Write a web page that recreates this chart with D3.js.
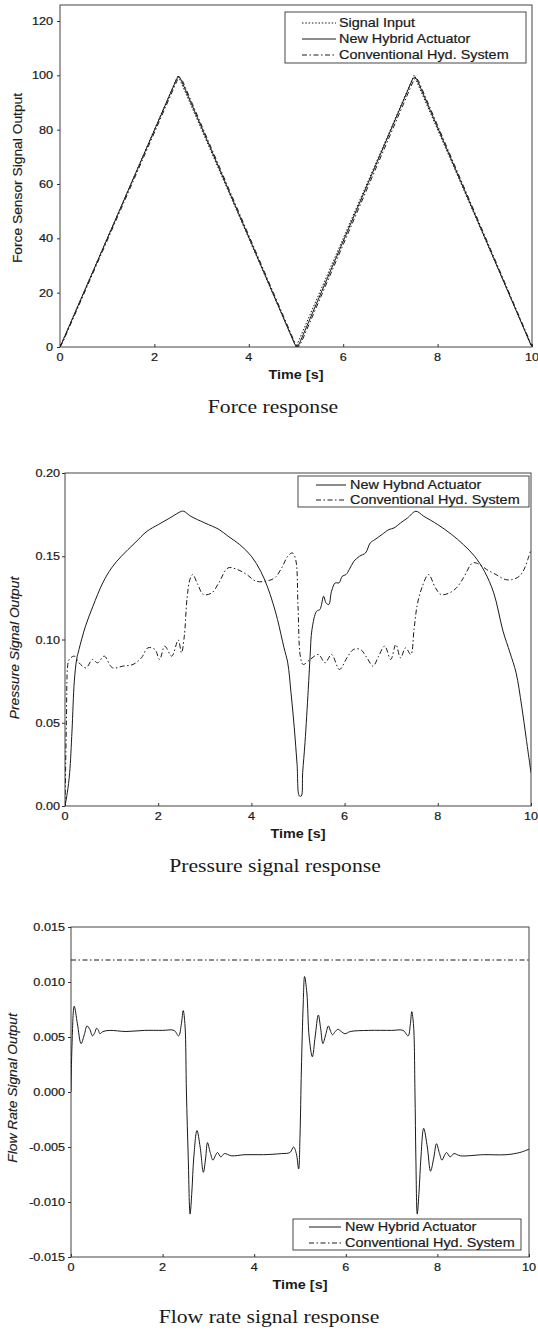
<!DOCTYPE html>
<html><head><meta charset="utf-8">
<script src="https://cdn.jsdelivr.net/npm/d3@7"></script>
<style>html,body{margin:0;padding:0;background:#fff;}svg{display:block;}</style>
</head><body>
<svg id="chart" width="538" height="1330"></svg>
<script>
// ---------------- DATA ----------------
const timeTicks = [0, 2, 4, 6, 8, 10];
const timeTickLabels = ["0", "2", "4", "6", "8", "10"];

// Panel 1 : force response
const forceTicks = [0, 20, 40, 60, 80, 100, 120];
const forceTickLabels = ["0", "20", "40", "60", "80", "100", "120"];
const forceSignalInput = [[0, 0], [2.5, 100], [5, 0], [7.5, 100], [10, 0]];
const forceHybrid = [[0, 0], [0.04, 1.5], [2.47, 98.6], [2.52, 99.6], [2.57, 98.2], [4.98, 0.8], [5.03, 0], [5.08, 1.6], [7.47, 98.6], [7.52, 99.5], [7.57, 98.2], [9.98, 0.6], [10, 0.4]];
const forceConventional = [[0, 0], [0.06, 1.8], [2.49, 98.4], [2.54, 99.2], [2.6, 97.8], [5.0, 0.6], [5.06, 0.2], [5.12, 2.0], [7.5, 98.5], [7.55, 99.1], [7.6, 97.8], [10, 0.3]];

// Panel 2 : pressure signal
const pressureTicks = [0, 0.05, 0.10, 0.15, 0.20];
const pressureTickLabels = ["0.00", "0.05", "0.10", "0.15", "0.20"];
const pressureHybrid = [[0, 0], [0.05, 0.008], [0.1, 0.02], [0.15, 0.045], [0.2, 0.075], [0.25, 0.088], [0.3, 0.094], [0.44, 0.108], [0.6, 0.12], [0.81, 0.134], [1.0, 0.143], [1.21, 0.150], [1.5, 0.158], [1.76, 0.165], [2.0, 0.169], [2.25, 0.173], [2.5, 0.177], [2.55, 0.177], [2.7, 0.174], [3.0, 0.170], [3.31, 0.166], [3.5, 0.162], [3.75, 0.157], [4.0, 0.150], [4.2, 0.141], [4.34, 0.132], [4.46, 0.122], [4.56, 0.112], [4.7, 0.095], [4.78, 0.086], [4.85, 0.068], [4.92, 0.047], [4.98, 0.025], [5.03, 0.006], [5.07, 0.006], [5.1, 0.02], [5.15, 0.038], [5.22, 0.07], [5.26, 0.09], [5.3, 0.106], [5.4, 0.117], [5.47, 0.118], [5.55, 0.126], [5.6, 0.122], [5.66, 0.121], [5.72, 0.129], [5.8, 0.134], [5.88, 0.134], [5.95, 0.138], [6.03, 0.139], [6.1, 0.142], [6.2, 0.147], [6.32, 0.150], [6.45, 0.152], [6.55, 0.158], [6.65, 0.160], [6.8, 0.163], [6.95, 0.166], [7.06, 0.167], [7.2, 0.170], [7.35, 0.173], [7.53, 0.177], [7.7, 0.174], [8.0, 0.169], [8.3, 0.163], [8.55, 0.157], [8.79, 0.150], [9.0, 0.141], [9.2, 0.128], [9.4, 0.105], [9.55, 0.092], [9.68, 0.08], [9.8, 0.06], [9.9, 0.04], [10, 0.02]];
const pressureConventional = [[0, 0], [0.03, 0.05], [0.06, 0.085], [0.09, 0.088], [0.2, 0.09], [0.3, 0.086], [0.45, 0.083], [0.59, 0.088], [0.7, 0.086], [0.84, 0.09], [1.02, 0.083], [1.24, 0.084], [1.46, 0.085], [1.64, 0.089], [1.78, 0.095], [1.93, 0.094], [2.03, 0.088], [2.14, 0.096], [2.29, 0.09], [2.43, 0.0997], [2.5, 0.092], [2.56, 0.102], [2.62, 0.125], [2.68, 0.136], [2.74, 0.139], [2.85, 0.133], [2.97, 0.127], [3.15, 0.128], [3.3, 0.134], [3.5, 0.143], [3.7, 0.142], [3.9, 0.139], [4.1, 0.135], [4.3, 0.135], [4.5, 0.137], [4.65, 0.143], [4.78, 0.150], [4.88, 0.152], [4.95, 0.148], [5.0, 0.12], [5.05, 0.09], [5.11, 0.085], [5.26, 0.088], [5.44, 0.091], [5.58, 0.086], [5.72, 0.091], [5.89, 0.082], [6.05, 0.089], [6.19, 0.094], [6.34, 0.094], [6.48, 0.089], [6.61, 0.084], [6.73, 0.090], [6.86, 0.096], [6.99, 0.088], [7.1, 0.097], [7.2, 0.089], [7.31, 0.095], [7.42, 0.091], [7.49, 0.106], [7.56, 0.121], [7.67, 0.132], [7.8, 0.139], [7.95, 0.131], [8.07, 0.127], [8.25, 0.128], [8.4, 0.131], [8.55, 0.137], [8.75, 0.146], [8.9, 0.145], [9.05, 0.142], [9.25, 0.139], [9.45, 0.136], [9.6, 0.136], [9.75, 0.138], [9.85, 0.142], [9.93, 0.148], [10, 0.154]];

// Panel 3 : flow rate signal
const flowTicks = [-0.015, -0.010, -0.005, 0, 0.005, 0.010, 0.015];
const flowTickLabels = ["-0.015", "-0.010", "-0.005", "0.000", "0.005", "0.010", "0.015"];
const flowHybrid = [[0, 0], [0.02, 0.004], [0.07, 0.0078], [0.14, 0.0062], [0.22, 0.0044], [0.29, 0.0052], [0.35, 0.006], [0.41, 0.0057], [0.47, 0.0051], [0.52, 0.0054], [0.56, 0.0058], [0.6, 0.0056], [0.63, 0.0053], [0.7, 0.0055], [0.85, 0.0056], [1.2, 0.0055], [1.6, 0.0056], [2.0, 0.0056], [2.25, 0.0056], [2.35, 0.0051], [2.41, 0.0062], [2.45, 0.0074], [2.49, 0.006], [2.52, 0.0], [2.56, -0.006], [2.6, -0.0111], [2.64, -0.009], [2.68, -0.006], [2.75, -0.0035], [2.82, -0.005], [2.89, -0.0073], [2.94, -0.006], [2.98, -0.0046], [3.04, -0.0055], [3.1, -0.0062], [3.15, -0.0058], [3.2, -0.0055], [3.27, -0.0059], [3.35, -0.0056], [3.5, -0.0058], [3.8, -0.0057], [4.2, -0.0057], [4.6, -0.0056], [4.78, -0.0055], [4.86, -0.005], [4.92, -0.0056], [4.97, -0.007], [5.0, -0.004], [5.03, 0.002], [5.07, 0.008], [5.1, 0.0105], [5.15, 0.009], [5.2, 0.005], [5.27, 0.0032], [5.33, 0.005], [5.4, 0.007], [5.45, 0.0058], [5.5, 0.0044], [5.56, 0.0052], [5.62, 0.006], [5.67, 0.0055], [5.71, 0.0052], [5.77, 0.0055], [5.83, 0.0057], [5.9, 0.0055], [5.98, 0.0053], [6.1, 0.0055], [6.5, 0.0056], [7.0, 0.0056], [7.25, 0.0056], [7.36, 0.0051], [7.41, 0.0062], [7.44, 0.0073], [7.48, 0.006], [7.51, 0.0], [7.53, -0.006], [7.56, -0.0111], [7.6, -0.009], [7.64, -0.006], [7.7, -0.0033], [7.78, -0.005], [7.85, -0.0072], [7.92, -0.006], [7.98, -0.0047], [8.04, -0.0055], [8.1, -0.0062], [8.15, -0.0058], [8.2, -0.0055], [8.28, -0.0059], [8.36, -0.0056], [8.5, -0.0058], [9.0, -0.0057], [9.5, -0.0057], [9.8, -0.0055], [10, -0.0052]];
const flowConventional = [[0, 0.012], [10, 0.012]];

const captions = ["Force response", "Pressure signal response", "Flow rate signal response"];
const yTitles = ["Force Sensor Signal Output", "Pressure Signal Output", "Flow Rate Signal Output"];
const legendNames = ["Signal Input", "New Hybrid Actuator", "Conventional Hyd. System"];
const legendNamesPressure = ["New Hybnd Actuator", "Conventional Hyd. System"];
const legendNamesFlow = ["New Hybrid Actuator", "Conventional Hyd. System"];

// ---------------- DRAWING ----------------
const svg = d3.select("#chart");
svg.append("rect").attr("width", 538).attr("height", 1330).attr("fill", "#fff");
const INK = "#1a1a1a";
const SANS = "'Liberation Sans', Arial, Helvetica, sans-serif";
const SERIF = "'Liberation Serif', 'Times New Roman', serif";
const DASH = { dot: "1.5,1.8", solid: null, dashdot: "5,2.5,1.5,2.5" };

function stext(x, y, str, o) {
  const t = svg.append("text")
    .attr("transform", `translate(${x},${y}) rotate(${o.rot || 0}) scale(${o.sx || 1},1)`)
    .attr("text-anchor", o.anchor || "start")
    .attr("font-family", o.family || SANS)
    .attr("font-size", o.size || 11)
    .attr("font-weight", o.weight || "normal")
    .attr("font-style", o.italic ? "italic" : "normal")
    .attr("fill", INK)
    .text(str);
  if (o.stroke) t.attr("stroke", INK).attr("stroke-width", o.stroke);
  return t;
}

function panel(cfg) {
  const x = d3.scaleLinear().domain([0, 10]).range([cfg.left, cfg.right]);
  const y = d3.scaleLinear().domain(cfg.yDomain).range(cfg.yRange);
  const g = svg.append("g");
  g.append("rect").attr("x", cfg.left).attr("y", cfg.frameTop)
    .attr("width", cfg.right - cfg.left).attr("height", cfg.yRange[0] - cfg.frameTop)
    .attr("fill", "none").attr("stroke", "#444").attr("stroke-width", 1);
  const ya = d3.axisLeft(y).tickValues(cfg.yTicks).tickSize(3).tickPadding(0)
    .tickFormat((d, i) => cfg.yTickLabels[i]);
  const yg = g.append("g").attr("transform", `translate(${cfg.left},0)`).call(ya);
  yg.select(".domain").remove();
  yg.selectAll(".tick line").attr("stroke", "#333");
  yg.selectAll(".tick text").remove();
  cfg.yTicks.forEach((v, i) => stext(cfg.left - cfg.yLabelGap, y(v) + 4, cfg.yTickLabels[i], { anchor: "end", size: 11, sx: 1.15, stroke: 0.2 }));
  const xa = d3.axisBottom(x).tickValues(timeTicks).tickSize(-3).tickFormat("");
  const xg = g.append("g").attr("transform", `translate(0,${cfg.yRange[0]})`).call(xa);
  xg.select(".domain").remove();
  xg.selectAll(".tick line").attr("stroke", "#333");
  timeTicks.forEach((v, i) => stext(x(v), cfg.yRange[0] + 14, timeTickLabels[i], { anchor: "middle", size: 11, sx: 1.15, stroke: 0.2 }));
  stext((cfg.left + cfg.right) / 2, cfg.yRange[0] + 32, "Time [s]", { anchor: "middle", size: 12, sx: 1.2, weight: "bold" });
  stext(cfg.titleX, cfg.titleY, cfg.yTitle, { anchor: "middle", size: 12, sx: 1.15, rot: -90, italic: cfg.italic, stroke: 0.15 });
  stext(cfg.captionX, cfg.yRange[0] + 66, cfg.caption, { anchor: "middle", size: 18.5, sx: 1.17, family: SERIF });
  const clipId = "clip" + cfg.id;
  svg.append("clipPath").attr("id", clipId).append("rect")
    .attr("x", cfg.left).attr("y", cfg.frameTop).attr("width", cfg.right - cfg.left).attr("height", cfg.yRange[0] - cfg.frameTop);
  cfg.series.forEach(s => {
    const line = d3.line().x(d => x(d[0])).y(d => y(d[1]))
      .curve(s.smooth ? d3.curveCatmullRom.alpha(0.5) : d3.curveLinear);
    g.append("path").attr("d", line(s.data)).attr("fill", "none")
      .attr("clip-path", `url(#${clipId})`)
      .attr("stroke", INK).attr("stroke-width", s.w || 1)
      .attr("stroke-dasharray", DASH[s.style]);
  });
  const L = cfg.legend;
  g.append("rect").attr("x", L.x0).attr("y", L.y0).attr("width", L.x1 - L.x0).attr("height", L.y1 - L.y0)
    .attr("fill", "#fff").attr("stroke", "#333").attr("stroke-width", 0.9);
  L.items.forEach((it, i) => {
    const yy = L.rows[i];
    g.append("line").attr("x1", L.lx0).attr("x2", L.lx1).attr("y1", yy).attr("y2", yy)
      .attr("stroke", INK).attr("stroke-width", 1).attr("stroke-dasharray", DASH[it.style]);
    stext(L.tx, yy + 4, it.name, { size: 12, sx: 1.2, stroke: 0.2 });
  });
}

panel({
  id: 1, left: 60, right: 532, frameTop: 5, yDomain: [0, 120], yRange: [347, 21],
  yTicks: forceTicks, yTickLabels: forceTickLabels, yLabelGap: 7,
  yTitle: yTitles[0], titleX: 22, titleY: 178, italic: false,
  caption: captions[0], captionX: 273,
  series: [
    { data: forceSignalInput, style: "dot" },
    { data: forceConventional, style: "dashdot" },
    { data: forceHybrid, style: "solid" }
  ],
  legend: { x0: 285, x1: 526, y0: 12, y1: 63, rows: [23, 39, 55], lx0: 302, lx1: 336, tx: 339,
    items: [{ name: legendNames[0], style: "dot" }, { name: legendNames[1], style: "solid" }, { name: legendNames[2], style: "dashdot" }] }
});

panel({
  id: 2, left: 65, right: 531, frameTop: 473, yDomain: [0, 0.2], yRange: [806, 473],
  yTicks: pressureTicks, yTickLabels: pressureTickLabels, yLabelGap: 5,
  yTitle: yTitles[1], titleX: 19, titleY: 648, italic: true,
  caption: captions[1], captionX: 275,
  series: [
    { data: pressureConventional, style: "dashdot", smooth: true },
    { data: pressureHybrid, style: "solid", smooth: true }
  ],
  legend: { x0: 298, x1: 529, y0: 476, y1: 507, rows: [485, 500], lx0: 316, lx1: 346, tx: 350,
    items: [{ name: legendNamesPressure[0], style: "solid" }, { name: legendNamesPressure[1], style: "dashdot" }] }
});

panel({
  id: 3, left: 71, right: 529, frameTop: 927, yDomain: [-0.015, 0.015], yRange: [1257, 927],
  yTicks: flowTicks, yTickLabels: flowTickLabels, yLabelGap: 6,
  yTitle: yTitles[2], titleX: 17, titleY: 1088, italic: true,
  caption: captions[2], captionX: 269,
  series: [
    { data: flowConventional, style: "dashdot" },
    { data: flowHybrid, style: "solid", smooth: true }
  ],
  legend: { x0: 293, x1: 521, y0: 1219, y1: 1250, rows: [1227, 1243], lx0: 309, lx1: 341, tx: 345,
    items: [{ name: legendNamesFlow[0], style: "solid" }, { name: legendNamesFlow[1], style: "dashdot" }] }
});
</script>
</body></html>
